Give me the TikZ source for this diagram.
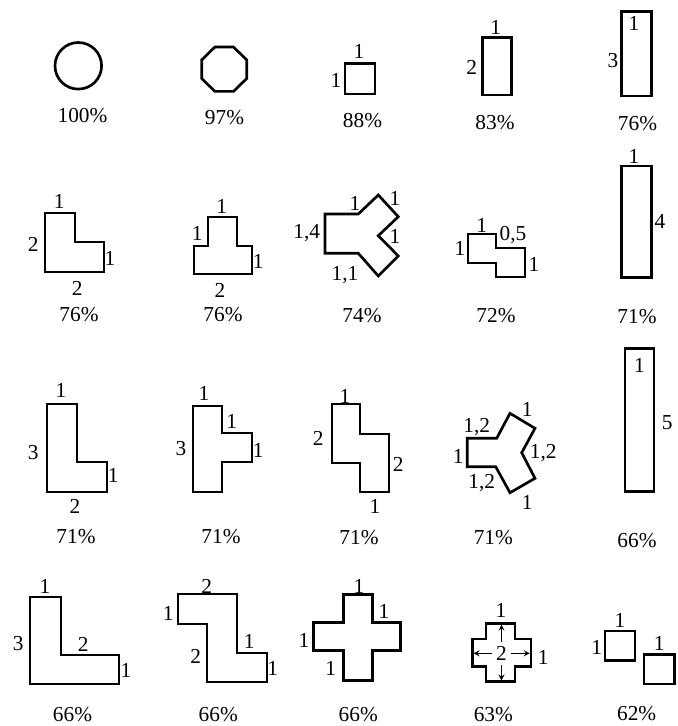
\documentclass[tikz,border=0pt]{standalone}
\usepackage{fontspec}
\setmainfont{Liberation Serif}
\begin{document}
\begin{tikzpicture}[x=0.75pt,y=0.75pt,yscale=-1,xscale=1,
  shp/.style={line width=2pt,line join=miter},
  lbl/.style={inner sep=0pt,font=\fontsize{16}{18}\selectfont},
  arr/.style={-stealth,line width=1pt,shorten <=1.5pt}]
\useasboundingbox (0,0) rectangle (678,726);

%Shape: Circle
\draw[shp] (78.3,65.8) circle (23.3);
%Shape: Polygon (octagon)
\draw[shp] (246.7,59.9) -- (233.5,47) -- (214.9,47) -- (201.7,59.9) -- (201.7,78.5) -- (214.9,91.4) -- (233.5,91.4) -- (246.7,78.5) -- cycle;
%Shape: Square
\draw[shp] (345,63.5) rectangle (375,94);
%Shape: Rectangle
\draw[shp] (482.7,37.7) rectangle (511.7,95);
%Shape: Rectangle
\draw[shp] (621.7,11.7) rectangle (651.7,96);
% Text Node
\node[lbl] (pCircle) at (82.5,115.5) {100\%};
\node[lbl] (pOct) at (224.5,118) {97\%};
\node[lbl] (sqTop) at (359,51.5) {1};
\node[lbl] (sqLeft) at (336,80) {1};
\node[lbl] (pSq) at (362.5,121) {88\%};
\node[lbl] (recTop) at (495.7,27.5) {1};
\node[lbl] (recLeft) at (471.7,67.5) {2};
\node[lbl] (pRec) at (495,122.5) {83\%};
\node[lbl] (barIn) at (634,23.5) {1};
\node[lbl] (barLeft) at (613,61) {3};
\node[lbl] (pBar) at (637.5,124) {76\%};

%Shape: Polygon (L)
\draw[shp] (45,213) -- (75,213) -- (75,242) -- (104,242) -- (104,272) -- (45,272) -- cycle;
%Shape: Polygon (T)
\draw[shp] (208,217) -- (237,217) -- (237,246) -- (252,246) -- (252,274) -- (194,274) -- (194,246) -- (208,246) -- cycle;
%Shape: Polygon (Y)
\draw[shp] (325,214) -- (358.3,214) -- (378.3,195) -- (398.3,216.7) -- (378.3,235.7) -- (398.3,256) -- (378.3,276) -- (358.3,253.3) -- (325,253.3) -- cycle;
%Shape: Polygon (step)
\draw[shp] (468,234) -- (496,234) -- (496,248) -- (525,248) -- (525,277) -- (496,277) -- (496,263) -- (468,263) -- cycle;
%Shape: Rectangle
\draw[shp] (621.7,166) rectangle (651.7,277.3);
% Text Node
\node[lbl] (lTop) at (59.3,201.7) {1};
\node[lbl] (lLeft) at (33.3,244) {2};
\node[lbl] (lRight) at (110,258.3) {1};
\node[lbl] (lBot) at (77.3,288.3) {2};
\node[lbl] (pL) at (79,315) {76\%};
\node[lbl] (tTop) at (221.7,206.7) {1};
\node[lbl] (tLeft) at (197.3,233.3) {1};
\node[lbl] (tRight) at (258.3,261.7) {1};
\node[lbl] (tBot) at (220,290) {2};
\node[lbl] (pT) at (223,315) {76\%};
\node[lbl] (yLeft) at (306.7,233.3) {1,4};
\node[lbl] (yTop) at (355,203.3) {1};
\node[lbl] (yTopR) at (395,198.3) {1};
\node[lbl] (yRight) at (395,236.7) {1};
\node[lbl] (yBot) at (345,275) {1,1};
\node[lbl] (pY) at (362,316) {74\%};
\node[lbl] (sTop) at (481.7,225) {1};
\node[lbl] (sStep) at (513,235) {0,5};
\node[lbl] (sLeft) at (460,248.3) {1};
\node[lbl] (sRight) at (534,264) {1};
\node[lbl] (pS) at (496,316) {72\%};
\node[lbl] (barTop) at (634,156) {1};
\node[lbl] (barRight) at (660,221.5) {4};
\node[lbl] (pBarB) at (637,317) {71\%};

%Shape: Polygon (L)
\draw[shp] (47,404) -- (77,404) -- (77,462) -- (107,462) -- (107,492) -- (47,492) -- cycle;
%Shape: Polygon (T)
\draw[shp] (193,406) -- (222,406) -- (222,433) -- (252,433) -- (252,462) -- (222,462) -- (222,492) -- (193,492) -- cycle;
%Shape: Polygon (S)
\draw[shp] (332,404) -- (360,404) -- (360,434) -- (389,434) -- (389,492) -- (360,492) -- (360,463) -- (332,463) -- cycle;
%Shape: Polygon (Y)
\draw[shp] (467.3,438.3) -- (496.7,438.3) -- (510,413.3) -- (535,428.3) -- (521.7,452.7) -- (535,478.3) -- (510,492.7) -- (495.7,466.7) -- (467.3,466.7) -- cycle;
%Shape: Rectangle
\draw[shp] (625,348.3) rectangle (654,491.7);
% Text Node
\node[lbl] (llTop) at (61,390) {1};
\node[lbl] (llLeft) at (33.3,453) {3};
\node[lbl] (llRight) at (113.3,475.7) {1};
\node[lbl] (llBot) at (75,506.7) {2};
\node[lbl] (pLL) at (76,536.7) {71\%};
\node[lbl] (ttTop) at (204,393.3) {1};
\node[lbl] (ttIn) at (231.7,421.7) {1};
\node[lbl] (ttRight) at (258.3,450) {1};
\node[lbl] (ttLeft) at (181,448.3) {3};
\node[lbl] (pTT) at (221,537) {71\%};
\node[lbl] (zTop) at (345,396) {1};
\node[lbl] (zLeft) at (318.3,438.3) {2};
\node[lbl] (zRight) at (398.3,464.3) {2};
\node[lbl] (zBot) at (375,506.7) {1};
\node[lbl] (pZ) at (359,538) {71\%};
\node[lbl] (yyTopL) at (476.7,427.3) {1,2};
\node[lbl] (yyTopR) at (527.3,409.3) {1};
\node[lbl] (yyLeft) at (458.3,456.7) {1};
\node[lbl] (yyRight) at (543.3,453.3) {1,2};
\node[lbl] (yyBotL) at (481.7,482.7) {1,2};
\node[lbl] (yyBotR) at (527.3,502.7) {1};
\node[lbl] (pYY) at (493.3,538) {71\%};
\node[lbl] (longIn) at (639.5,365) {1};
\node[lbl] (longRight) at (667.3,423) {5};
\node[lbl] (pLong) at (637,541) {66\%};

%Shape: Polygon (L)
\draw[shp] (30,597) -- (61,597) -- (61,655) -- (119,655) -- (119,684) -- (30,684) -- cycle;
%Shape: Polygon (Z)
\draw[shp] (178,594) -- (237,594) -- (237,653) -- (267,653) -- (267,682) -- (207,682) -- (207,624) -- (178,624) -- cycle;
%Shape: Polygon (cross)
\draw[shp] (343.3,594.3) -- (372.3,594.3) -- (372.3,622.7) -- (400.7,622.7) -- (400.7,650.7) -- (372.3,650.7) -- (372.3,680.7) -- (343.3,680.7) -- (343.3,650.7) -- (313.3,650.7) -- (313.3,622.7) -- (343.3,622.7) -- cycle;
%Shape: Polygon (small cross)
\draw[shp] (486,623.3) -- (515,623.3) -- (515,639) -- (531,639) -- (531,666.7) -- (515,666.7) -- (515,681.7) -- (486,681.7) -- (486,666.7) -- (472.3,666.7) -- (472.3,639) -- (486,639) -- cycle;
%Shape: Square
\draw[shp] (605,631) rectangle (635,660.7);
%Shape: Square
\draw[shp] (644,654.3) rectangle (674.3,684);
% Text Node
\node[lbl] (bigTop) at (45,586.7) {1};
\node[lbl] (bigLeft) at (18.3,643.3) {3};
\node[lbl] (bigIn) at (83.3,644) {2};
\node[lbl] (bigRight) at (126,670) {1};
\node[lbl] (pBig) at (72.5,714.5) {66\%};
\node[lbl] (zzTop) at (206.7,586) {2};
\node[lbl] (zzLeft) at (168.3,613.3) {1};
\node[lbl] (zzMid) at (195.7,656) {2};
\node[lbl] (zzIn) at (249.3,641.7) {1};
\node[lbl] (zzRight) at (272.7,668.3) {1};
\node[lbl] (pZZ) at (218.3,714.5) {66\%};
\node[lbl] (crTop) at (359,586.7) {1};
\node[lbl] (crIn) at (384,611.7) {1};
\node[lbl] (crLeft) at (304,640) {1};
\node[lbl] (crBot) at (330.7,668.3) {1};
\node[lbl] (pCr) at (358.3,714.5) {66\%};
\node[lbl,inner sep=1.5pt] (scMid) at (501.5,653.3) {2};
\node[lbl] (scTop) at (501,610) {1};
\node[lbl] (scRight) at (543.3,657.3) {1};
\node[lbl] (pSc) at (493.3,714.5) {63\%};
\node[lbl] (twoTop) at (620,620) {1};
\node[lbl] (twoLeft) at (596.7,647.3) {1};
\node[lbl] (twoTopB) at (659.3,643.3) {1};
\node[lbl] (pTwo) at (636.7,713.5) {62\%};

%Straight Lines (arrows of the small cross)
\coordinate (scN) at (501.5,624.5);
\coordinate (scS) at (501.5,680.5);
\coordinate (scW) at (473.5,653.3);
\coordinate (scE) at (529.8,653.3);
\draw[arr] (scMid.north) -- (scN);
\draw[arr] (scMid.south) -- (scS);
\draw[arr] (scMid.west) -- (scW);
\draw[arr] (scMid.east) -- (scE);

\end{tikzpicture}
\end{document}
